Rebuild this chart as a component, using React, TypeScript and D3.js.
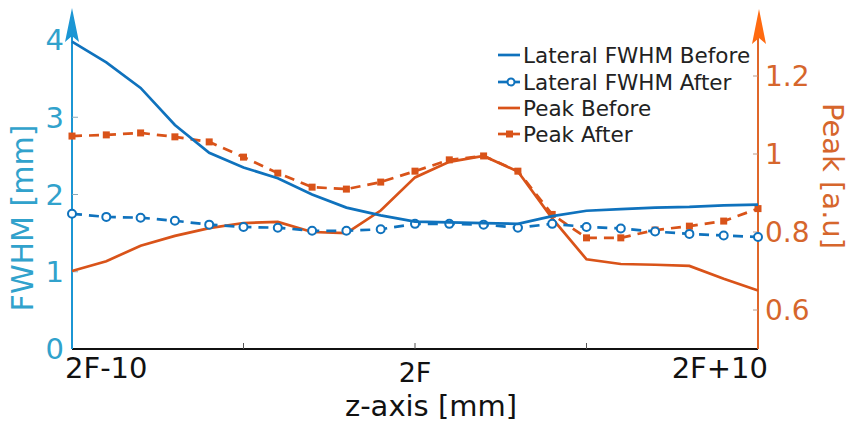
import React, { useEffect, useRef } from "react";
import * as d3 from "d3";

// z positions relative to 2F (mm)
const zPos = [-10, -9, -8, -7, -6, -5, -4, -3, -2, -1, 0, 1, 2, 3, 4, 5, 6, 7, 8, 9, 10];

// FWHM (mm), left axis
const lateralBefore = [3.98, 3.71, 3.38, 2.9, 2.54, 2.35, 2.21, 2.0, 1.83, 1.73, 1.65, 1.64, 1.63, 1.62, 1.72, 1.79, 1.81, 1.83, 1.84, 1.86, 1.87];
const lateralAfter = [1.75, 1.71, 1.7, 1.66, 1.61, 1.58, 1.57, 1.53, 1.53, 1.55, 1.62, 1.62, 1.61, 1.57, 1.62, 1.58, 1.56, 1.52, 1.49, 1.47, 1.45];

// Peak (a.u), right axis
const peakBefore = [0.7, 0.725, 0.765, 0.79, 0.81, 0.823, 0.826, 0.8, 0.797, 0.855, 0.94, 0.98, 0.995, 0.955, 0.835, 0.73, 0.718, 0.716, 0.713, 0.68, 0.65];
const peakAfter = [1.046, 1.049, 1.054, 1.044, 1.031, 0.992, 0.951, 0.915, 0.91, 0.928, 0.956, 0.985, 0.995, 0.956, 0.845, 0.785, 0.785, 0.805, 0.815, 0.828, 0.86];

const leftTicks = [0, 1, 2, 3, 4];
const rightTicks = [0.6, 0.8, 1, 1.2];
const xTickLabels = ["2F-10", "2F", "2F+10"];
const legendLabels = ["Lateral FWHM Before", "Lateral FWHM After", "Peak Before", "Peak After"];

const BLUE = "#0f72bd";
const ORANGE = "#d95319";
const LEFT_AXIS = "#1b96d4";
const LEFT_TEXT = "#31a2cc";
const RIGHT_AXIS = "#e0672a";
const RIGHT_TEXT = "#d6662c";
const FONT = "DejaVu Sans, sans-serif";

function Chart() {
  const ref = useRef<SVGSVGElement | null>(null);

  useEffect(() => {
    const w = 857;
    const h = 426;
    const x0 = 72;
    const x1 = 758;
    const yBottom = 349;

    const svg = d3.select(ref.current).html("").attr("width", w).attr("height", h);

    const xScale = d3.scaleLinear().domain([-10, 10]).range([x0, x1]);
    // left: ~77 px per mm, right: 390 px per unit
    const yLeft = d3.scaleLinear().domain([0, 4]).range([yBottom, yBottom - 309]);
    const yRight = d3.scaleLinear().domain([0.5, 1.2]).range([yBottom, yBottom - 273]);

    // Bottom axis
    svg.append("line")
      .attr("x1", x0).attr("x2", x1)
      .attr("y1", yBottom).attr("y2", yBottom)
      .attr("stroke", "#111").attr("stroke-width", 2);
    [-5, 0, 5].forEach(t => {
      svg.append("line")
        .attr("x1", xScale(t)).attr("x2", xScale(t))
        .attr("y1", yBottom).attr("y2", yBottom - 6)
        .attr("stroke", "#555").attr("stroke-width", 1);
    });

    // x tick labels (custom placement, like the original)
    const xt = svg.append("g").attr("font-family", FONT).attr("fill", "#111");
    xt.append("text").attr("x", 65).attr("y", 378).attr("font-size", 29).text(xTickLabels[0]);
    xt.append("text").attr("x", xScale(0)).attr("y", 382).attr("text-anchor", "middle").attr("font-size", 27).text(xTickLabels[1]);
    xt.append("text").attr("x", 768).attr("y", 378).attr("text-anchor", "end").attr("font-size", 29).text(xTickLabels[2]);
    xt.append("text").attr("x", 431).attr("y", 416).attr("text-anchor", "middle").attr("font-size", 29).text("z-axis [mm]");

    // Left axis
    svg.append("line")
      .attr("x1", x0).attr("x2", x0).attr("y1", yBottom).attr("y2", 30)
      .attr("stroke", LEFT_AXIS).attr("stroke-width", 2);
    svg.append("path")
      .attr("d", `M${x0},8 L${x0 + 7},42 L${x0},36 L${x0 - 7},42 Z`)
      .attr("fill", LEFT_AXIS);
    leftTicks.forEach(t => {
      if (t > 0 && t < 4) {
        svg.append("line")
          .attr("x1", x0).attr("x2", x0 + 6)
          .attr("y1", yLeft(t)).attr("y2", yLeft(t))
          .attr("stroke", "#8ab").attr("stroke-width", 1);
      }
      svg.append("text")
        .attr("x", 64).attr("y", yLeft(t))
        .attr("dy", "0.36em")
        .attr("text-anchor", "end")
        .attr("font-family", FONT).attr("font-size", 29)
        .attr("fill", LEFT_TEXT)
        .text(d3.format("")(t));
    });
    svg.append("text")
      .attr("transform", `translate(33, 218) rotate(-90)`)
      .attr("text-anchor", "middle")
      .attr("font-family", FONT).attr("font-size", 30)
      .attr("fill", LEFT_TEXT)
      .text("FWHM [mm]");

    // Right axis
    svg.append("line")
      .attr("x1", x1).attr("x2", x1).attr("y1", yBottom).attr("y2", 30)
      .attr("stroke", RIGHT_AXIS).attr("stroke-width", 2);
    svg.append("path")
      .attr("d", `M${x1 + 1},9 L${x1 + 8},44 L${x1 + 1},38 L${x1 - 6},44 Z`)
      .attr("fill", "#ff6a10");
    rightTicks.forEach(t => {
      svg.append("line")
        .attr("x1", x1).attr("x2", x1 - 5)
        .attr("y1", yRight(t)).attr("y2", yRight(t))
        .attr("stroke", "#b98").attr("stroke-width", 1);
      svg.append("text")
        .attr("x", 765).attr("y", yRight(t))
        .attr("dy", "0.36em")
        .attr("font-family", FONT).attr("font-size", 28)
        .attr("fill", RIGHT_TEXT)
        .text(d3.format("")(t));
    });
    svg.append("text")
      .attr("transform", `translate(823, 176) rotate(90)`)
      .attr("text-anchor", "middle")
      .attr("font-family", FONT).attr("font-size", 29)
      .attr("fill", RIGHT_TEXT)
      .text("Peak [a.u]");

    // Series
    const lineLeft = d3.line<number>().x((_, i) => xScale(zPos[i])).y(d => yLeft(d));
    const lineRight = d3.line<number>().x((_, i) => xScale(zPos[i])).y(d => yRight(d));

    svg.append("path").datum(peakAfter)
      .attr("d", lineRight).attr("fill", "none")
      .attr("stroke", ORANGE).attr("stroke-width", 2.7).attr("stroke-dasharray", "10,7");
    svg.append("g").selectAll("rect").data(peakAfter).join("rect")
      .attr("x", (_, i) => xScale(zPos[i]) - 3.5)
      .attr("y", d => yRight(d) - 3.5)
      .attr("width", 7).attr("height", 7)
      .attr("fill", ORANGE);

    svg.append("path").datum(peakBefore)
      .attr("d", lineRight).attr("fill", "none")
      .attr("stroke", ORANGE).attr("stroke-width", 2.7);

    svg.append("path").datum(lateralAfter)
      .attr("d", lineLeft).attr("fill", "none")
      .attr("stroke", BLUE).attr("stroke-width", 2.7).attr("stroke-dasharray", "10,7");
    svg.append("g").selectAll("circle").data(lateralAfter).join("circle")
      .attr("cx", (_, i) => xScale(zPos[i]))
      .attr("cy", d => yLeft(d))
      .attr("r", 4)
      .attr("fill", "white")
      .attr("stroke", BLUE).attr("stroke-width", 2);

    svg.append("path").datum(lateralBefore)
      .attr("d", lineLeft).attr("fill", "none")
      .attr("stroke", BLUE).attr("stroke-width", 2.7);

    // Legend
    const legend = svg.append("g").attr("font-family", FONT).attr("font-size", 21.5).attr("fill", "#222");
    const colors = [BLUE, BLUE, ORANGE, ORANGE];
    const rowY = [55, 82, 108, 134];
    legendLabels.forEach((lab, i) => {
      legend.append("line")
        .attr("x1", 498).attr("x2", 520)
        .attr("y1", rowY[i]).attr("y2", rowY[i])
        .attr("stroke", colors[i]).attr("stroke-width", 2.7);
      if (i === 1) {
        legend.append("circle").attr("cx", 511).attr("cy", rowY[i]).attr("r", 3.5)
          .attr("fill", "white").attr("stroke", BLUE).attr("stroke-width", 2);
      }
      if (i === 3) {
        legend.append("rect").attr("x", 506).attr("y", rowY[i] - 3.5).attr("width", 7).attr("height", 7)
          .attr("fill", ORANGE);
      }
      legend.append("text").attr("x", 523).attr("y", rowY[i] + 8).text(lab);
    });
  }, []);

  return <svg ref={ref} style={{ position: "absolute", left: 0, top: 0, background: "white" }} />;
}

export default function App() {
  return <Chart />;
}
